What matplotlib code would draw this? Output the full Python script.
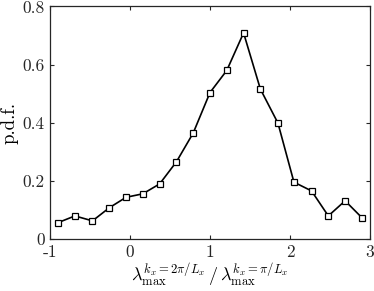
import matplotlib
matplotlib.use('Agg')
import matplotlib.pyplot as plt

plt.rcParams['font.family'] = 'serif'
plt.rcParams['font.serif'] = ['cmr10']
plt.rcParams['mathtext.fontset'] = 'cm'
plt.rcParams['axes.unicode_minus'] = False
plt.rcParams['axes.formatter.use_mathtext'] = True

# ratio of wavelengths (x) and probability density (y)
ratio = [-0.90, -0.69, -0.47, -0.26, -0.05, 0.16, 0.37, 0.58, 0.79, 1.00,
         1.21, 1.42, 1.63, 1.85, 2.05, 2.27, 2.48, 2.69, 2.90]
pdf = [0.057, 0.080, 0.063, 0.108, 0.144, 0.156, 0.190, 0.266, 0.365, 0.504,
       0.580, 0.709, 0.516, 0.399, 0.196, 0.166, 0.080, 0.132, 0.074]

xticks = [-1, 0, 1, 2, 3]
yticks = [0, 0.2, 0.4, 0.6, 0.8]
xtick_labels = ['-1', '0', '1', '2', '3']
ytick_labels = ['0', '0.2', '0.4', '0.6', '0.8']

fig = plt.figure(figsize=(3.74, 2.91), dpi=100)
ax = fig.add_axes([0.134, 0.178, 0.855, 0.80])

ax.plot(ratio, pdf, color='black', lw=1.2, marker='s', markersize=4.5,
        markerfacecolor='white', markeredgecolor='black', markeredgewidth=0.9)

ax.set_xlim(-1, 3)
ax.set_ylim(0, 0.8)
ax.set_xticks(xticks)
ax.set_xticklabels(xtick_labels)
ax.set_yticks(yticks)
ax.set_yticklabels(ytick_labels)
ax.tick_params(direction='in', top=True, right=True, length=3, width=0.8,
               labelsize=12.5, colors='#262626', pad=4)
for s in ax.spines.values():
    s.set_linewidth(0.9)
    s.set_color('#262626')

ax.set_ylabel('p.d.f.', fontsize=13.5, labelpad=3)
ax.set_xlabel(r'$\lambda_{\mathrm{max}}^{k_x=2\pi/L_x}\,/\,\lambda_{\mathrm{max}}^{k_x=\pi/L_x}$',
              fontsize=13, labelpad=1)

fig.savefig('out.png', dpi=100)
